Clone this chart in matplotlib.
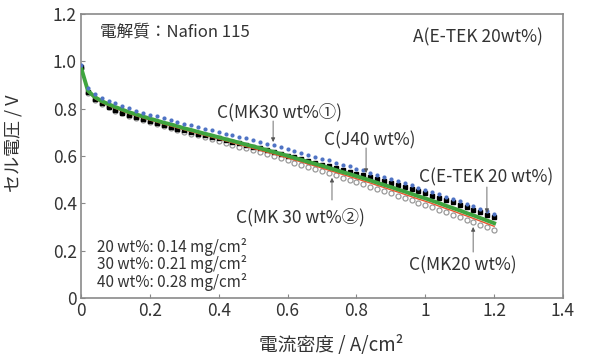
import numpy as np
import matplotlib
matplotlib.use('Agg')
import matplotlib.pyplot as plt

plt.rcParams['font.family'] = ['Noto Sans CJK JP', 'DejaVu Sans']

# current density grid (A/cm2), one reading every 0.02
current = np.linspace(0, 1.2, 61)

# cell voltage (V)
v_blue = [0.984, 0.886, 0.862, 0.846, 0.833, 0.822, 0.811, 0.801, 0.792, 0.783,
          0.775, 0.767, 0.759, 0.752, 0.744, 0.737, 0.730, 0.723, 0.716, 0.709,
          0.702, 0.695, 0.688, 0.681, 0.674, 0.667, 0.660, 0.652, 0.645, 0.637,
          0.629, 0.621, 0.613, 0.605, 0.597, 0.589, 0.581, 0.572, 0.564, 0.556,
          0.547, 0.539, 0.530, 0.521, 0.512, 0.503, 0.494, 0.485, 0.476, 0.466,
          0.457, 0.447, 0.438, 0.428, 0.418, 0.408, 0.398, 0.387, 0.377, 0.366,
          0.355]
v_green = [0.975, 0.876, 0.849, 0.832, 0.819, 0.807, 0.796, 0.785, 0.776, 0.767,
           0.758, 0.750, 0.741, 0.734, 0.726, 0.717, 0.710, 0.702, 0.694, 0.687,
           0.679, 0.671, 0.664, 0.656, 0.648, 0.641, 0.633, 0.625, 0.617, 0.609,
           0.601, 0.592, 0.584, 0.575, 0.567, 0.559, 0.550, 0.541, 0.532, 0.524,
           0.515, 0.506, 0.497, 0.487, 0.478, 0.469, 0.459, 0.450, 0.440, 0.430,
           0.421, 0.411, 0.401, 0.390, 0.380, 0.370, 0.359, 0.349, 0.338, 0.327,
           0.316]
v_black = [0.975, 0.870, 0.840, 0.822, 0.807, 0.795, 0.783, 0.773, 0.764, 0.755,
           0.747, 0.739, 0.731, 0.724, 0.716, 0.709, 0.702, 0.695, 0.688, 0.681,
           0.674, 0.667, 0.660, 0.653, 0.646, 0.639, 0.632, 0.624, 0.617, 0.609,
           0.601, 0.594, 0.586, 0.579, 0.572, 0.564, 0.557, 0.549, 0.541, 0.534,
           0.526, 0.518, 0.510, 0.502, 0.494, 0.486, 0.478, 0.469, 0.461, 0.452,
           0.443, 0.433, 0.424, 0.414, 0.404, 0.394, 0.384, 0.373, 0.363, 0.352,
           0.341]
v_red = [0.970, 0.872, 0.843, 0.826, 0.813, 0.801, 0.790, 0.779, 0.770, 0.761,
         0.752, 0.744, 0.735, 0.727, 0.719, 0.711, 0.703, 0.695, 0.687, 0.680,
         0.672, 0.664, 0.656, 0.648, 0.640, 0.632, 0.624, 0.616, 0.608, 0.600,
         0.592, 0.583, 0.575, 0.566, 0.558, 0.549, 0.540, 0.531, 0.522, 0.513,
         0.504, 0.495, 0.486, 0.476, 0.467, 0.457, 0.448, 0.438, 0.428, 0.418,
         0.409, 0.399, 0.388, 0.378, 0.368, 0.357, 0.347, 0.336, 0.325, 0.314,
         0.303]
v_circle = [0.970, 0.868, 0.838, 0.820, 0.805, 0.792, 0.781, 0.771, 0.761, 0.752,
            0.743, 0.735, 0.727, 0.719, 0.711, 0.703, 0.695, 0.687, 0.679, 0.671,
            0.664, 0.656, 0.648, 0.640, 0.632, 0.624, 0.615, 0.607, 0.599, 0.590,
            0.581, 0.572, 0.563, 0.554, 0.545, 0.536, 0.527, 0.518, 0.509, 0.500,
            0.490, 0.481, 0.471, 0.462, 0.452, 0.443, 0.433, 0.423, 0.413, 0.403,
            0.393, 0.383, 0.373, 0.362, 0.352, 0.341, 0.331, 0.320, 0.309, 0.298,
            0.287]

x_ticks = [0, 0.2, 0.4, 0.6, 0.8, 1.0, 1.2, 1.4]
x_labels = ['0', '0.2', '0.4', '0.6', '0.8', '1', '1.2', '1.4']
y_ticks = [0, 0.2, 0.4, 0.6, 0.8, 1.0, 1.2]
y_labels = ['0', '0.2', '0.4', '0.6', '0.8', '1.0', '1.2']

loadings = ['20 wt%: 0.14 mg/cm²', '30 wt%: 0.21 mg/cm²', '40 wt%: 0.28 mg/cm²']

txt = '#333333'

fig = plt.figure(figsize=(5.94, 3.56), dpi=100)
ax = fig.add_axes([81 / 594, 1 - 298 / 356, 482 / 594, 284 / 356])

ax.plot(current, v_circle, 'o', ms=3.6, mfc='white', mec='#9a9a9a', mew=0.9, zorder=2)
ax.plot(current, v_black, 's', ms=3.4, color='black', zorder=3)
ax.plot(current, v_red, '-', color='#e8552e', lw=1.0, zorder=4)
ax.plot(current, v_green, '-', color='#3fa43f', lw=2.8, zorder=5)
ax.plot(current, v_blue, 'o', ms=3.0, color='#4f73c4', mec='none', zorder=6)

ax.set_xlim(0, 1.4)
ax.set_ylim(0, 1.2)
ax.set_xticks(x_ticks)
ax.set_xticklabels(x_labels)
ax.set_yticks(y_ticks)
ax.set_yticklabels(y_labels)
ax.tick_params(direction='in', length=3, width=0.8, color='#888888',
               labelsize=12.5, labelcolor=txt, pad=3)
for s in ax.spines.values():
    s.set_color('#8a8a8a')
    s.set_linewidth(1.2)

ax.set_xlabel('電流密度 / A/cm²', fontsize=13.5, color=txt)
ax.xaxis.set_label_coords(0.52, -0.13)
ax.set_ylabel('セル電圧 / V', fontsize=13, color=txt)
ax.yaxis.set_label_coords(-0.122, 0.546)

ax.text(0.055, 1.124, '電解質：Nafion 115', fontsize=12, color=txt, va='center')
ax.text(1.342, 1.103, 'A(E-TEK 20wt%)', fontsize=12.5, color=txt, ha='right', va='center')

# labels with arrows: (text, text pos, arrow tail, arrow head)
notes = [
    ('C(MK30 wt%①)', (0.578, 0.786), (0.558, 0.748), (0.558, 0.659)),
    ('C(J40 wt%)', (0.839, 0.668), (0.828, 0.634), (0.828, 0.528)),
    ('C(E-TEK 20 wt%)', (1.176, 0.511), (1.179, 0.469), (1.179, 0.359)),
    ('C(MK 30 wt%②)', (0.636, 0.342), (0.729, 0.414), (0.729, 0.508)),
    ('C(MK20 wt%)', (1.109, 0.139), (1.139, 0.194), (1.139, 0.300)),
]
for label, pos, tail, head in notes:
    ax.text(pos[0], pos[1], label, fontsize=12.5, color=txt, ha='center', va='center', zorder=8)
    ax.annotate('', xy=head, xytext=tail,
                arrowprops=dict(arrowstyle='-|>', color='#555555', lw=0.6,
                                mutation_scale=6, shrinkA=0, shrinkB=0), zorder=8)

for i, line in enumerate(loadings):
    ax.text(0.046, 0.215 - i * 0.073, line, fontsize=11, color=txt, va='center')

fig.savefig('out.png', dpi=100)
